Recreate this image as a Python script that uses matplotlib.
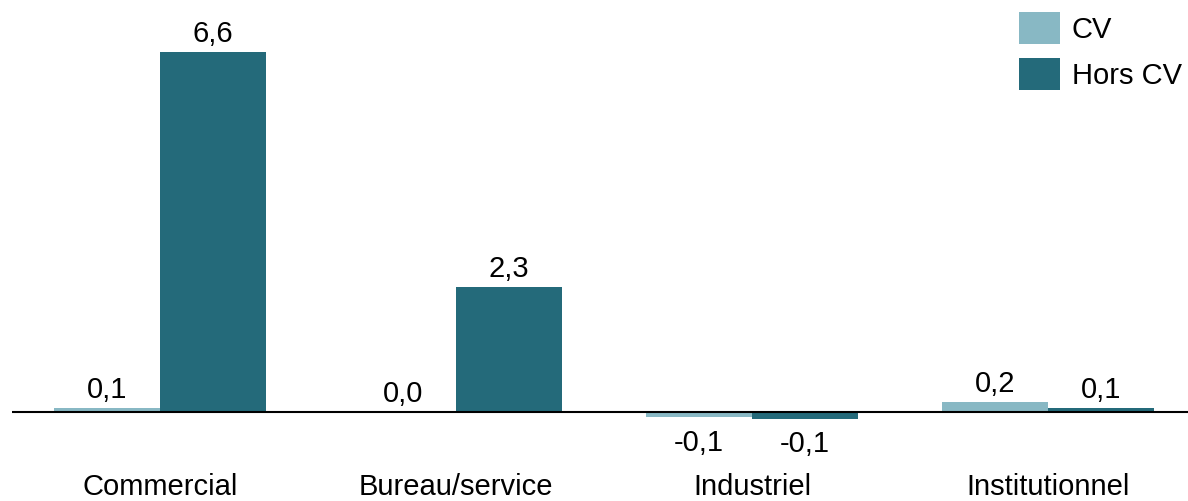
import matplotlib.pyplot as plt
import numpy as np

plt.rcParams['font.family'] = ['Liberation Sans', 'DejaVu Sans']

categories = ['Commercial', 'Bureau/service', 'Industriel', 'Institutionnel']
cv = [0.07, 0.0, -0.1, 0.18]
hors_cv = [6.6, 2.3, -0.12, 0.07]
series_names = ['CV', 'Hors CV']
colors = ['#88b8c4', '#246a7a']

W, H = 1188, 501
FS = 21
fig = plt.figure(figsize=(W / 100, H / 100), dpi=100)
ax = fig.add_axes([12 / W, 1 - 430 / H, 1 - 12 / W, 430 / H])

x = np.arange(len(categories))
bw = 0.358
bars_cv = ax.bar(x - bw / 2, cv, bw, color=colors[0], label=series_names[0])
bars_h = ax.bar(x + bw / 2, hors_cv, bw, color=colors[1], label=series_names[1])

# value labels, comma decimal
for bars, vals in [(bars_cv, cv), (bars_h, hors_cv)]:
    for b, v in zip(bars, vals):
        txt = f'{v:.1f}'.replace('.', ',')
        cx = b.get_x() + b.get_width() / 2
        if v >= 0:
            ax.annotate(txt, (cx, v), xytext=(0, 7.2), textcoords='offset points',
                        ha='center', va='baseline', fontsize=FS)
        else:
            ax.annotate(txt, (cx, v), xytext=(0, -8), textcoords='offset points',
                        ha='center', va='top', fontsize=FS)

ax.axhline(0, color='black', lw=1.5)
ax.set_xlim(-0.5, 3.473)
ax.set_ylim(-18 / 54.55, 412 / 54.55)
ax.set_xticks(x)
ax.set_xticklabels(categories, fontsize=FS)
ax.tick_params(axis='x', length=0, pad=31)
ax.set_yticks([])
for s in ax.spines.values():
    s.set_visible(False)

fig.legend(loc='upper left', bbox_to_anchor=(1019 / W, 1 - 12 / H), frameon=False,
           fontsize=FS, handlelength=1.4, handleheight=1.3, handletextpad=0.4,
           labelspacing=0.5, borderpad=0, borderaxespad=0)

fig.savefig('out.png', dpi=100)
